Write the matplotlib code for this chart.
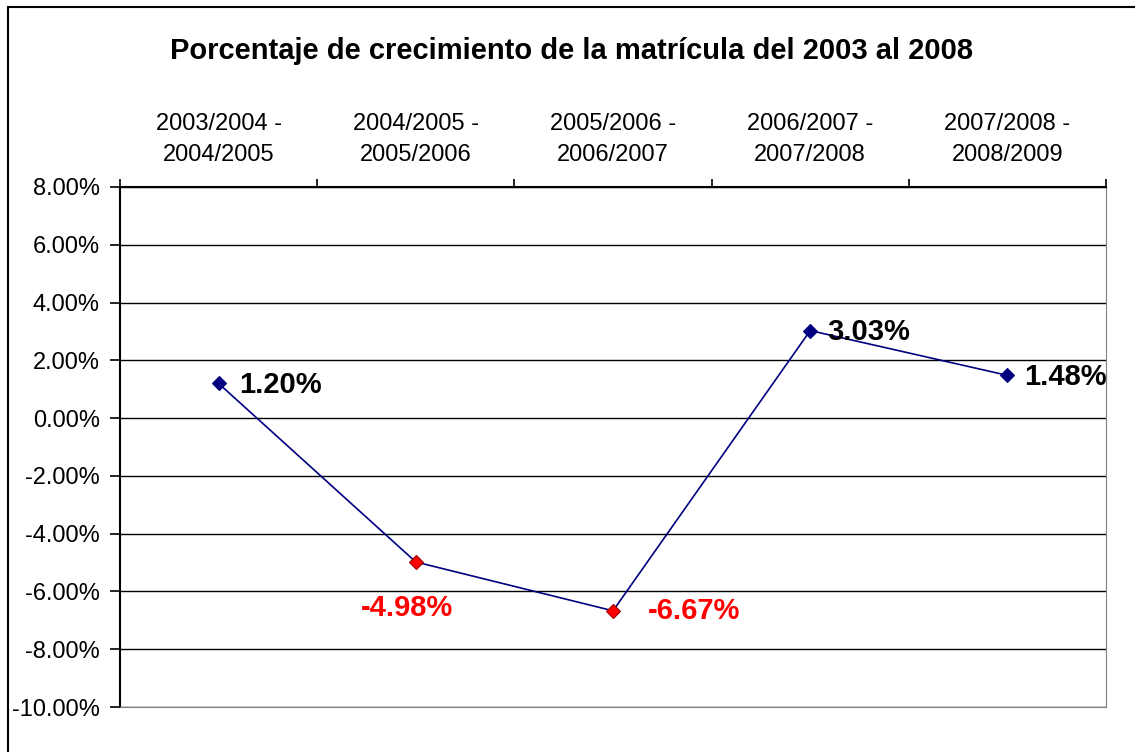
import matplotlib.pyplot as plt
from matplotlib.patches import Rectangle
from matplotlib.ticker import FuncFormatter, FixedLocator

plt.rcParams['font.family'] = ['Liberation Sans', 'DejaVu Sans']

periods = ['2003/2004 -\n2004/2005', '2004/2005 -\n2005/2006', '2005/2006 -\n2006/2007',
           '2006/2007 -\n2007/2008', '2007/2008 -\n2008/2009']
growth = [1.20, -4.98, -6.67, 3.03, 1.48]

fig = plt.figure(figsize=(11.35, 7.52), dpi=100)
fig.patches.append(Rectangle((8 / 1135, -0.1), 1.2, (752 - 7) / 752 + 0.1,
                             transform=fig.transFigure, fill=False, ec='black', lw=1.5))
ax = fig.add_axes([120 / 1135, 45 / 752, 986 / 1135, 520 / 752])

# label offsets (points) and alignment, as placed in the original chart
offsets = [((15, -1), 'left'), ((-6, -33), 'center'), ((25, 0), 'left'),
           ((12, -1), 'left'), ((12, -1), 'left')]

x = list(range(len(growth)))
ax.plot(x, growth, color='#000080', lw=1.2, zorder=3)
for xi, v, (off, ha) in zip(x, growth, offsets):
    mc = '#FF0000' if v < 0 else '#000080'
    ec = '#990000' if v < 0 else '#000080'
    tc = '#FF0000' if v < 0 else 'black'
    ax.plot(xi, v, marker='D', ms=7, color=mc, mec=ec, mew=0.8, zorder=4)
    ax.annotate(f'{v:.2f}%', (xi, v), xytext=off, textcoords='offset points',
                ha=ha, va='center', fontsize=21, fontweight='bold', color=tc)

ax.set_xlim(-0.5, len(growth) - 0.5)
ax.set_ylim(-10, 8)
ax.set_yticks(range(-10, 9, 2))
ax.yaxis.set_major_formatter(FuncFormatter(lambda v, p: f'{v:.2f}%'))
ax.grid(axis='y', color='black', lw=1)
ax.set_axisbelow(True)

ax.xaxis.tick_top()
ax.xaxis.set_major_locator(FixedLocator([i - 0.5 for i in range(len(growth) + 1)]))
ax.xaxis.set_major_formatter(FuncFormatter(lambda v, p: ''))
ax.xaxis.set_minor_locator(FixedLocator(x))
ax.set_xticklabels(periods, minor=True)
ax.tick_params(axis='x', which='minor', length=0, pad=15, labelsize=17)
ax.tick_params(axis='x', which='major', length=6, width=1.2, direction='out')
ax.tick_params(axis='y', length=7, width=1.2, labelsize=17, pad=7.5)
for lbl in ax.get_xticklabels(minor=True):
    lbl.set_linespacing(1.55)

ax.spines['left'].set_color('black')
ax.spines['left'].set_linewidth(1.5)
ax.spines['top'].set_color('black')
ax.spines['top'].set_linewidth(1.5)
ax.spines['right'].set_color('#808080')
ax.spines['bottom'].set_color('#808080')

fig.text(572 / 1135, 1 - 51 / 752, 'Porcentaje de crecimiento de la matrícula del 2003 al 2008',
         ha='center', va='center', fontsize=21, fontweight='bold')

fig.savefig('out.png', dpi=100)
